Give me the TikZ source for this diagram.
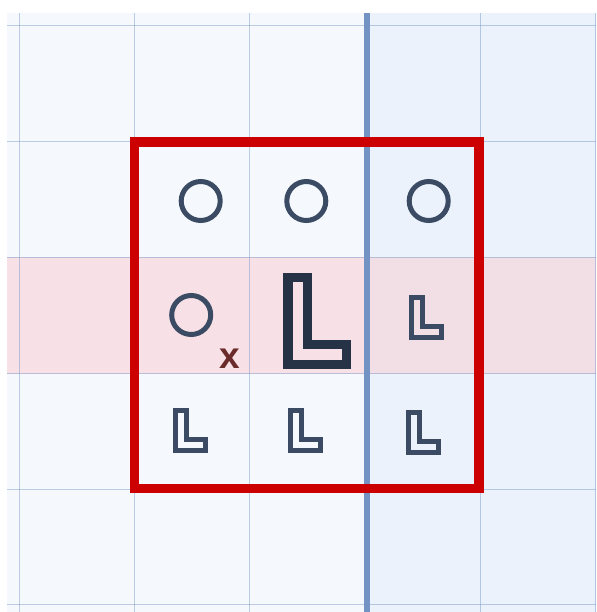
\documentclass[tikz,border=0pt]{standalone}
\usepackage{fontspec}
\setmainfont{Liberation Sans}
\usepackage{xcolor}
\usetikzlibrary{positioning}

\definecolor{paneleft}{HTML}{F5F9FE}
\definecolor{paneright}{HTML}{EBF2FC}
\definecolor{bandleft}{HTML}{F7E1E6}
\definecolor{bandright}{HTML}{F2DFE5}
\definecolor{gridblue}{HTML}{7393C4}
\definecolor{framered}{HTML}{CC0000}
\definecolor{inkslate}{HTML}{3A4B63}
\definecolor{inkdark}{HTML}{263346}
\definecolor{labelred}{HTML}{6B2B2B}

\begin{document}
\begin{tikzpicture}[
    x=1pt, y=-1pt,
    gridline/.style={draw=gridblue, draw opacity=0.45, line width=1pt},
    divider/.style={draw=gridblue, line width=6pt},
    redframe/.style={draw=framered, line width=9.5pt, line join=miter},
    ring/.style={circle, draw=inkslate, line width=5pt, minimum size=39pt, inner sep=0pt},
    ellsmall/.style={draw=inkslate, line width=5pt, line join=miter},
    ellbig/.style={draw=inkdark, line width=9.5pt, line join=miter},
    sublabel/.style={text=labelred, font=\bfseries\fontsize{37}{37}\selectfont, inner sep=0pt}
]
    \useasboundingbox (0,0) rectangle (596,612);

    % panes and the highlighted row
    \fill[paneleft] (7,13) rectangle (366.7,612);
    \fill[paneright] (366.7,13) rectangle (596,612);
    \fill[bandleft] (7,257.3) rectangle (366.7,374);
    \fill[bandright] (366.7,257.3) rectangle (596,374);

    % grid
    \foreach \gx in {19,134.3,249.7,480,595}
        \draw[gridline] (\gx,13) -- (\gx,612);
    \foreach \gy in {26,142,257.3,373.7,489.3,604.3}
        \draw[gridline] (7,\gy) -- (596,\gy);
    \draw[divider] (366.7,13) -- (366.7,612);

    % circles
    \node[ring] (c11) at (200.7,201) {};
    \node[ring] (c12) at (306.3,201) {};
    \node[ring] (c13) at (428.7,201) {};
    \node[ring] (c21) at (191.2,315) {};
    \node[sublabel] (sub) at (229.7,359) {x};

    % L shapes
    \draw[ellbig] (288,277.5) -- ++(19.5,0) -- ++(0,67.2) -- ++(38.8,0)
        -- ++(0,20) -- ++(-58.3,0) -- cycle;
    \foreach \lx/\ly in {411.8/297.5, 175.8/410.8, 290.8/410.8, 408.5/412.5}
        \draw[ellsmall] (\lx,\ly) -- ++(10.5,0) -- ++(0,28.5) -- ++(19.5,0)
            -- ++(0,11) -- ++(-30,0) -- cycle;

    % frame
    \draw[redframe] (134.6,141.8) rectangle (479.2,488.4);
\end{tikzpicture}
\end{document}
